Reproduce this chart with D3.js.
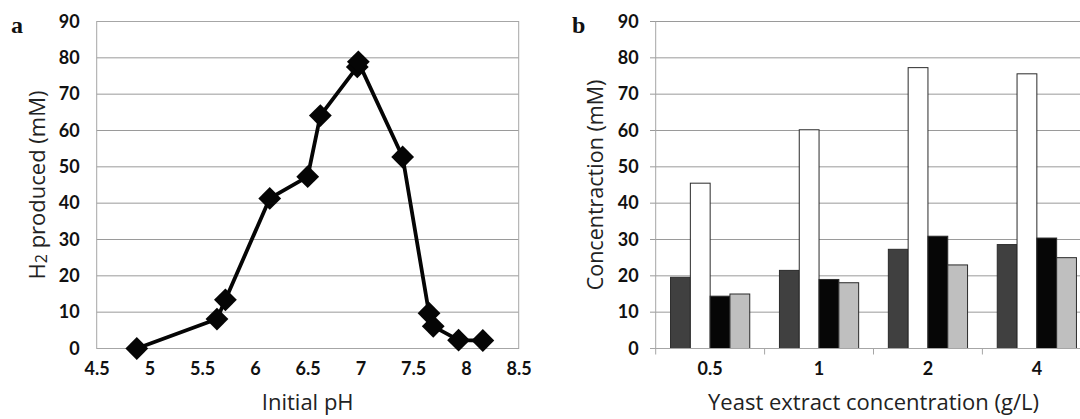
<!DOCTYPE html>
<html>
<head>
<meta charset="utf-8">
<script src="https://cdn.jsdelivr.net/npm/d3@7"></script>
<style>
  html, body { margin: 0; padding: 0; background: #fff; }
  svg { display: block; }
</style>
</head>
<body>
<svg id="chart" width="1080" height="419"></svg>
<script>
// ---------- Data: panel a ----------
const phValues = [4.88, 5.64, 5.72, 6.14, 6.50, 6.62, 6.97, 6.98, 7.40, 7.65, 7.69, 7.93, 8.16];
const h2Values = [0, 8.1, 13.4, 41.3, 47.3, 64.1, 77.5, 78.9, 52.7, 9.7, 6.1, 2.3, 2.2];
const phTicks = [4.5, 5, 5.5, 6, 6.5, 7, 7.5, 8, 8.5];
const concTicks = [0, 10, 20, 30, 40, 50, 60, 70, 80, 90];

// ---------- Data: panel b ----------
const yeastCategories = ["0.5", "1", "2", "4"];
const seriesNames = ["s1", "s2", "s3", "s4"];
const series1 = [19.6, 21.5, 27.3, 28.6];   // dark grey
const series2 = [45.5, 60.2, 77.3, 75.6];   // white
const series3 = [14.4, 19.0, 30.9, 30.4];   // black
const series4 = [15.0, 18.1, 23.0, 25.0];   // light grey
const seriesColors = ["#404040", "#ffffff", "#060606", "#bfbfbf"];

const svg = d3.select("#chart");
const tickFont = "Lato, 'Open Sans', sans-serif";
const titleFont = "'Open Sans', sans-serif";
const gridColor = "#9a9a9a";
const axisColor = "#a6a6a6";
const tickSize = 18;
const titleSize = 22;

function styleTicks(sel) {
  sel.selectAll("text").attr("font-family", tickFont).attr("font-weight", 700)
    .attr("font-size", tickSize).attr("fill", "#111");
}

// ================= Panel a =================
const xA = d3.scaleLinear().domain([4.5, 8.5]).range([96.7, 518.7]);
const yA = d3.scaleLinear().domain([0, 90]).range([348.5, 21.5]);
const gA = svg.append("g");

gA.selectAll("line.grid").data(concTicks.filter(d => d > 0 && d < 90)).enter()
  .append("line")
  .attr("x1", xA(4.5)).attr("x2", xA(8.5))
  .attr("y1", d => yA(d)).attr("y2", d => yA(d))
  .attr("stroke", gridColor).attr("stroke-width", 1);
gA.append("rect")
  .attr("x", xA(4.5)).attr("y", yA(90))
  .attr("width", xA(8.5) - xA(4.5)).attr("height", yA(0) - yA(90))
  .attr("fill", "none").attr("stroke", axisColor).attr("stroke-width", 1);

const yAxisA = d3.axisLeft(yA).tickValues(concTicks).tickSize(0).tickPadding(17);
const gyA = gA.append("g").attr("transform", `translate(${xA(4.5)},0)`).call(yAxisA);
gyA.select(".domain").remove();
styleTicks(gyA);

const xAxisA = d3.axisBottom(xA).tickValues(phTicks).tickSize(0).tickPadding(14)
  .tickFormat(d3.format("~g"));
const gxA = gA.append("g").attr("transform", `translate(0,${yA(0)})`).call(xAxisA);
gxA.select(".domain").remove();
styleTicks(gxA);

const ptsA = phValues.map((p, i) => [p, h2Values[i]]);
gA.append("path").datum(ptsA)
  .attr("d", d3.line().x(d => xA(d[0])).y(d => yA(d[1])))
  .attr("fill", "none").attr("stroke", "#050505").attr("stroke-width", 3.8)
  .attr("stroke-linejoin", "round");
gA.selectAll("path.mk").data(ptsA).enter().append("path")
  .attr("d", d3.symbol(d3.symbolSquare, 260)())
  .attr("transform", d => `translate(${xA(d[0])},${yA(d[1])}) rotate(45)`)
  .attr("fill", "#050505");

gA.append("text")
  .attr("transform", `translate(39,${(yA(0) + yA(90)) / 2}) rotate(-90)`)
  .attr("text-anchor", "middle").attr("dominant-baseline", "middle")
  .attr("font-family", titleFont).attr("font-size", titleSize).attr("fill", "#222")
  .html("H<tspan baseline-shift='-25%' font-size='16'>2</tspan> produced (mM)");
gA.append("text")
  .attr("x", (xA(4.5) + xA(8.5)) / 2).attr("y", 410)
  .attr("text-anchor", "middle")
  .attr("font-family", titleFont).attr("font-size", titleSize).attr("fill", "#222")
  .text("Initial pH");
gA.append("text").attr("x", 11).attr("y", 33)
  .attr("font-family", "'Liberation Serif', serif").attr("font-weight", "bold")
  .attr("font-size", 24).attr("fill", "#111").text("a");

// ================= Panel b =================
const x0 = d3.scaleBand().domain(yeastCategories).range([655.7, 1091.3]).paddingInner(0).paddingOuter(0);
const x1 = d3.scaleBand().domain(seriesNames).range([0, x0.bandwidth()]).paddingInner(0).paddingOuter(0.75);
const yB = d3.scaleLinear().domain([0, 90]).range([348.5, 21.5]);
const gB = svg.append("g");

gB.selectAll("line.grid").data(concTicks.filter(d => d > 0)).enter()
  .append("line")
  .attr("x1", 650).attr("x2", 1091.3)
  .attr("y1", d => yB(d)).attr("y2", d => yB(d))
  .attr("stroke", gridColor).attr("stroke-width", 1);

const allSeries = [series1, series2, series3, series4];
const barData = [];
yeastCategories.forEach((c, ci) => {
  seriesNames.forEach((s, si) => {
    barData.push({cat: c, s: s, v: allSeries[si][ci], color: seriesColors[si]});
  });
});
gB.selectAll("rect.bar").data(barData).enter().append("rect")
  .attr("x", d => x0(d.cat) + x1(d.s))
  .attr("y", d => yB(d.v))
  .attr("width", x1.bandwidth())
  .attr("height", d => yB(0) - yB(d.v))
  .attr("fill", d => d.color)
  .attr("stroke", "#2a2a2a").attr("stroke-width", 1);

gB.append("line").attr("x1", 650).attr("x2", 1091.3).attr("y1", yB(0)).attr("y2", yB(0))
  .attr("stroke", axisColor).attr("stroke-width", 1);
gB.append("line").attr("x1", x0.range()[0]).attr("x2", x0.range()[0]).attr("y1", yB(90)).attr("y2", yB(0))
  .attr("stroke", axisColor).attr("stroke-width", 1);
const boundaries = yeastCategories.map(c => x0(c)).concat([x0.range()[1]]);
gB.selectAll("line.ct").data(boundaries).enter().append("line")
  .attr("x1", d => d).attr("x2", d => d).attr("y1", yB(0)).attr("y2", yB(0) + 6)
  .attr("stroke", axisColor).attr("stroke-width", 1);

const yAxisB = d3.axisLeft(yB).tickValues(concTicks).tickSize(0).tickPadding(17);
const gyB = gB.append("g").attr("transform", `translate(${x0.range()[0]},0)`).call(yAxisB);
gyB.select(".domain").remove();
styleTicks(gyB);
const xAxisB = d3.axisBottom(x0).tickSize(0).tickPadding(14);
const gxB = gB.append("g").attr("transform", `translate(0,${yB(0)})`).call(xAxisB);
gxB.select(".domain").remove();
styleTicks(gxB);

gB.append("text")
  .attr("transform", `translate(597,${(yB(0) + yB(90)) / 2}) rotate(-90)`)
  .attr("text-anchor", "middle").attr("dominant-baseline", "middle")
  .attr("font-family", titleFont).attr("font-size", 21.5).attr("fill", "#222")
  .text("Concentraction (mM)");
gB.append("text")
  .attr("x", (x0.range()[0] + x0.range()[1]) / 2).attr("y", 410)
  .attr("text-anchor", "middle")
  .attr("font-family", titleFont).attr("font-size", titleSize).attr("fill", "#222")
  .text("Yeast extract concentration (g/L)");
gB.append("text").attr("x", 572).attr("y", 33)
  .attr("font-family", "'Liberation Serif', serif").attr("font-weight", "bold")
  .attr("font-size", 24).attr("fill", "#111").text("b");
</script>
</body>
</html>
